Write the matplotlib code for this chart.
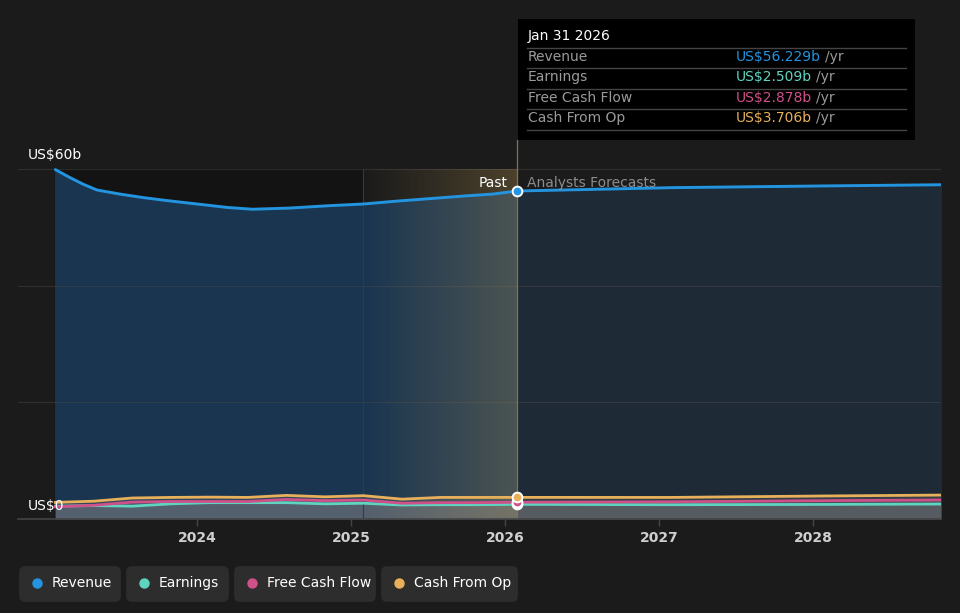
import numpy as np
import matplotlib.pyplot as plt
from matplotlib.patches import FancyBboxPatch

# ---- data (US$ billions), past + analyst forecasts ----
# revenue read at a finer step, it bends more than the other series
rev_past_dates = [2023.08, 2023.17, 2023.26, 2023.35, 2023.50, 2023.65, 2023.80,
                  2024.00, 2024.20, 2024.36, 2024.60, 2024.85, 2025.08, 2025.30,
                  2025.55, 2025.75, 2025.92, 2026.08]
revenue_past = [59.9, 58.6, 57.4, 56.4, 55.7, 55.1, 54.6,
                54.0, 53.4, 53.1, 53.3, 53.7, 54.0, 54.5,
                55.0, 55.4, 55.7, 56.229]

past_dates = [2023.08, 2023.33, 2023.58, 2023.83, 2024.08, 2024.33, 2024.58,
              2024.83, 2025.08, 2025.33, 2025.58, 2025.83, 2026.08]
fcst_dates = [2026.08, 2027.08, 2028.08, 2028.83]

revenue_fcst = [56.229, 56.8, 57.1, 57.3]

earnings_past = [2.2, 2.3, 2.2, 2.6, 2.8, 2.8, 2.8, 2.6, 2.7, 2.4, 2.45, 2.45, 2.509]
earnings_fcst = [2.509, 2.45, 2.5, 2.57]

fcf_past = [2.1, 2.35, 2.9, 3.0, 3.0, 3.0, 3.35, 3.15, 3.25, 2.7, 2.8, 2.8, 2.878]
fcf_fcst = [2.878, 2.95, 3.15, 3.26]

cfo_past = [2.85, 3.05, 3.6, 3.7, 3.75, 3.7, 4.05, 3.8, 4.0, 3.4, 3.7, 3.7, 3.706]
cfo_fcst = [3.706, 3.7, 3.95, 4.1]

year_ticks = [2024, 2025, 2026, 2027, 2028]
series_names = ["Revenue", "Earnings", "Free Cash Flow", "Cash From Op"]
tooltip_values = ["US$56.229b", "US$2.509b", "US$2.878b", "US$3.706b"]

# ---- style ----
BG = "#1b1b1b"
C_REV = "#2394df"
C_EARN = "#5fd4c0"
C_FCF = "#d0508a"
C_CFO = "#e8b05a"
colors = [C_REV, C_EARN, C_FCF, C_CFO]

plt.rcParams["font.family"] = ["DejaVu Sans"]

W, H = 960, 613
fig = plt.figure(figsize=(W / 100, H / 100), dpi=100, facecolor=BG)


def fx(px):
    return px / W


def fy(py):
    return 1 - py / H


# axes spans x 18..941 px, y 140..519 px
ax = fig.add_axes([fx(18), fy(519), fx(941 - 18), (519 - 140) / H])
ax.set_facecolor(BG)
x_left = 2024 - (197 - 18) / 154
x_right = fcst_dates[-1]
ymax = 60 * (519 - 140) / (519 - 169)
ax.set_xlim(x_left, x_right)
ax.set_ylim(0, ymax)

split = past_dates[-1]
hl_start = 2025.08

# dark past background
ax.fill_between([past_dates[0], hl_start], 0, 60, color="#131313", zorder=0)

# revenue area fills
ax.fill_between(rev_past_dates, 0, revenue_past, color="#1a3550", zorder=1)
ax.fill_between(fcst_dates, 0, revenue_fcst, color="#1e2a36", zorder=1)

# small series fills (grey)
for past, fcst in ((cfo_past, cfo_fcst), (fcf_past, fcf_fcst), (earnings_past, earnings_fcst)):
    ax.fill_between(past_dates, 0, past, color="#8a8a8a", alpha=0.22, lw=0, zorder=1.5)
    ax.fill_between(fcst_dates, 0, fcst, color="#8a8a8a", alpha=0.22, lw=0, zorder=1.5)

# gridlines, faintly over the fills
for v in (20, 40, 60):
    ax.axhline(v, color="#4a4a4a", lw=0.8, alpha=0.45, zorder=1.8)

# highlight gradient for the last year of past data
grad = np.zeros((2, 256, 4))
grad[..., 0] = 0.80
grad[..., 1] = 0.65
grad[..., 2] = 0.35
grad[..., 3] = np.linspace(0.0, 0.28, 256)[None, :]
ax.imshow(grad, extent=[hl_start, split, 0, 60], aspect="auto",
          origin="lower", zorder=2, interpolation="bilinear")
ax.axvline(hl_start, ymax=60 / ymax, color="#3c3a30", lw=0.8, zorder=2)
ax.axvline(split, color="#85744a", lw=0.9, zorder=2)

# lines
ax.plot(rev_past_dates + fcst_dates[1:], revenue_past + revenue_fcst[1:],
        color=C_REV, lw=2.1, zorder=4, solid_capstyle="round", solid_joinstyle="round")
for past, fcst, c in ((earnings_past, earnings_fcst, C_EARN),
                      (fcf_past, fcf_fcst, C_FCF),
                      (cfo_past, cfo_fcst, C_CFO)):
    ax.plot(past_dates + fcst_dates[1:], past + fcst[1:], color=c, lw=2.0, zorder=4,
            solid_joinstyle="round")

# markers at the split point
for val, c in zip([revenue_past[-1], earnings_past[-1], fcf_past[-1], cfo_past[-1]], colors):
    ax.plot(split, val, "o", ms=7, color=c, mec="white", mew=1.4, zorder=5)

# axis styling
for s in ("top", "right", "left"):
    ax.spines[s].set_visible(False)
ax.spines["bottom"].set_color("#444444")
ax.spines["bottom"].set_linewidth(1.2)
ax.set_yticks([])
ax.set_xticks(year_ticks)
ax.set_xticklabels([str(y) for y in year_ticks])
ax.tick_params(axis="x", colors="#444444", length=5, width=1,
               labelcolor="#cfcfcf", labelsize=10, pad=4)
for lbl in ax.get_xticklabels():
    lbl.set_fontweight("semibold")

# y labels
fig.text(fx(28), fy(155), "US$60b", color="white", fontsize=10, va="center", ha="left")
fig.text(fx(28), fy(506), "US$0", color="white", fontsize=10, va="center", ha="left")

# past / forecast labels
ax.text(split - 0.065, 57.6, "Past", color="white", fontsize=10, ha="right", va="center", zorder=6)
ax.text(split + 0.065, 57.6, "Analysts Forecasts", color="#8c8c8c", fontsize=10,
        ha="left", va="center", zorder=6)

# tooltip box
tip = plt.Rectangle((fx(518), fy(140)), fx(915 - 518), (140 - 19) / H,
                    transform=fig.transFigure, facecolor="black", edgecolor="none", zorder=10)
fig.patches.append(tip)
fig.text(fx(528), fy(36), "Jan 31 2026", color="white", fontsize=10, va="center", zorder=11)
row_y = [57, 77, 98, 118]
for py in [48, 68, 89, 109, 130]:
    fig.add_artist(plt.Line2D([fx(527), fx(906)], [fy(py), fy(py)], color="#444444",
                              lw=1, transform=fig.transFigure, zorder=11))
for name, val, c, py in zip(series_names, tooltip_values, colors, row_y):
    fig.text(fx(528), fy(py), name, color="#9a9a9a", fontsize=10, va="center", zorder=11)
    t = fig.text(fx(736), fy(py), val, color=c, fontsize=10, va="center", zorder=11)
    fig.canvas.draw()
    bb = t.get_window_extent()
    fig.text(bb.x1 / W + fx(4), fy(py), "/yr", color="#9a9a9a", fontsize=10, va="center", zorder=11)

# legend chips
chips = [(19, 121), (126, 229), (234, 376), (381, 518)]
for (x0, x1), name, c in zip(chips, series_names, colors):
    box = FancyBboxPatch((fx(x0 + 4), fy(602 - 4)), fx(x1 - x0 - 8), (36 - 8) / H,
                         boxstyle="round,pad=0.004,rounding_size=0.006",
                         transform=fig.transFigure, facecolor="#2d2d2d",
                         edgecolor="none", mutation_aspect=W / H)
    fig.patches.append(box)
    fig.add_artist(plt.Line2D([fx(x0 + 18)], [fy(583)], marker="o", ms=6.5, color=c,
                              transform=fig.transFigure))
    fig.text(fx(x0 + 33), fy(583), name, color="white", fontsize=10, va="center")

fig.savefig("out.png", dpi=100, facecolor=BG)
